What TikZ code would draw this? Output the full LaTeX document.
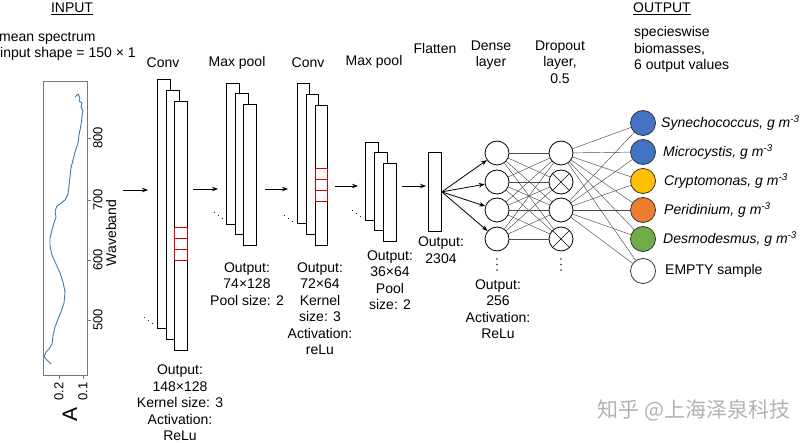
\documentclass[tikz,border=0pt]{standalone}
\usepackage{fontspec}
\setmainfont{Liberation Sans}
\newfontfamily\cjkfont{Noto Sans CJK SC}
\usetikzlibrary{arrows.meta}
\definecolor{spblue}{HTML}{3B7CA3}
\definecolor{oblue}{HTML}{4472C4}
\definecolor{oyellow}{HTML}{FFC000}
\definecolor{oorange}{HTML}{ED7D31}
\definecolor{ogreen}{HTML}{70AD47}
\definecolor{axisgray}{HTML}{777777}
\begin{document}
\begin{tikzpicture}[x=1pt,y=-1pt,
  every node/.style={font=\fontsize{14}{16.5}\selectfont, inner sep=0pt},
  lbl/.style={align=center},
  fmap/.style={draw=black, line width=0.8pt, fill=white, minimum width=13pt, anchor=north west},
  cellbox/.style={draw=red!85!black, line width=0.8pt},
  neuron/.style={circle, draw=black, line width=0.8pt, fill=white, minimum size=24pt},
  outn/.style={circle, draw=black!80, line width=0.8pt, minimum size=25pt},
  flow/.style={-{Stealth[length=6pt,width=4.5pt]}, line width=0.8pt},
  wire/.style={draw=black!70, line width=0.45pt},
  species/.style={font=\itshape\fontsize{14}{16}\selectfont, anchor=west},
  ticklbl/.style={font=\fontsize{13}{13}\selectfont, rotate=90},
  dotsnode/.style={font=\fontsize{10}{10}\selectfont}
]
\useasboundingbox (0,0) rectangle (800,443);

% ---------- titles ----------
\node (tin) at (72,9) {\underline{INPUT}};
\node[anchor=west] (tmean) at (-1,38) {mean spectrum};
\node[anchor=west] (tshape) at (0,54) {input shape = 150 × 1};
\node (tout) at (662,9) {\underline{OUTPUT}};
\node[anchor=west, align=left] (tspec) at (634,49.5) {specieswise\\biomasses,\\6 output values};

% ---------- spectrum ----------
\node[draw=axisgray, line width=0.7pt, minimum width=44pt, minimum height=294pt, anchor=north west] (spec) at (43,81) {};
\foreach \yy/\lab in {138/800,200/700,260/600,320/500}{
  \draw[axisgray, line width=0.6pt] (87,\yy) -- (91,\yy);
  \node[ticklbl, anchor=north] at (93,\yy) {\lab};
}
\node[rotate=90] (wave) at (111,233) {Waveband};
\foreach \xx/\lab in {59/0.2,83/0.1}{
  \draw[axisgray, line width=0.6pt] (\xx,375) -- (\xx,379);
  \node[ticklbl, anchor=east] at (\xx,382) {\lab};
}
\node[rotate=90, font=\fontsize{21}{21}\selectfont] (axA) at (70,414) {A};
\draw[spblue, line width=0.9pt, line join=round] plot coordinates {
 (75,97) (78,94) (80,98) (79,101) (82,103) (81,107) (83,111) (82,117) (81,125)
 (79,135) (78,143) (75,152) (73,160) (71,168) (70,177) (69,186) (68,194) (65,200)
 (60,204) (57,206) (55,211) (56,217) (54,223) (52,230) (50,238) (50,246) (52,255)
 (56,264) (60,273) (63,282) (65,292) (64,303) (61,312) (58,319) (55,327) (53,336)
 (52,344) (49,349) (46,352) (44,357) (47,360) (51,364)};

% ---------- conv 1 ----------
\node[lbl] (lc1) at (163,63) {Conv};
\node[fmap, minimum height=249pt] (c1a) at (157,79) {};
\node[fmap, minimum height=249pt] (c1b) at (165.5,90) {};
\node[fmap, minimum height=249pt] (c1c) at (174,101) {};
\foreach \yy in {227,238,249}{\draw[cellbox] (174,\yy) rectangle (187,\yy+11);}
\node[dotsnode] (dc1) at (148.5,318) {$\ddots$};
\node[lbl] (oc1) at (180,403) {Output:\\148×128\\Kernel size: 3\\Activation:\\ReLu};

% ---------- max pool 1 ----------
\node[lbl] (lm1) at (237,63) {Max pool};
\node[fmap, minimum height=141pt] (m1a) at (226,83) {};
\node[fmap, minimum height=141pt] (m1b) at (234.5,93.5) {};
\node[fmap, minimum height=141pt] (m1c) at (243,104) {};
\node[dotsnode] (dm1) at (218.5,213) {$\ddots$};
\node[lbl] (om1) at (247,284) {Output:\\74×128\\Pool size: 2};

% ---------- conv 2 ----------
\node[lbl] (lc2) at (308,63) {Conv};
\node[fmap, minimum width=12pt, minimum height=140pt] (c2a) at (297,83) {};
\node[fmap, minimum width=12pt, minimum height=140pt] (c2b) at (306,94) {};
\node[fmap, minimum width=12pt, minimum height=140pt] (c2c) at (315,105) {};
\foreach \yy in {168,179,190}{\draw[cellbox] (315,\yy) rectangle (327,\yy+11);}
\node[dotsnode] (dc2) at (288.5,216) {$\ddots$};
\node[lbl] (oc2) at (320,308.5) {Output:\\72×64\\Kernel\\size: 3\\Activation:\\reLu};

% ---------- max pool 2 ----------
\node[lbl] (lm2) at (374,62) {Max pool};
\node[fmap, minimum height=78pt] (m2a) at (365,142) {};
\node[fmap, minimum height=78pt] (m2b) at (374,152.5) {};
\node[fmap, minimum height=78pt] (m2c) at (383,163) {};
\node[dotsnode] (dm2) at (356.5,211) {$\ddots$};
\node[lbl] (om2) at (390,280) {Output:\\36×64\\Pool\\size: 2};

% ---------- flatten ----------
\node[lbl] (lfl) at (435,48) {Flatten};
\node[fmap, minimum height=79pt] (fl) at (428,152) {};
\node[lbl] (ofl) at (441,250) {Output:\\2304};

% ---------- layer arrows ----------
\coordinate (a0s) at (123,190); \coordinate (a0e) at (148,190);
\coordinate (a1s) at (193,189); \coordinate (a1e) at (218,189);
\coordinate (a2s) at (265,189); \coordinate (a2e) at (288,189);
\coordinate (a3s) at (335,186); \coordinate (a3e) at (358,186);
\coordinate (a4s) at (402,186); \coordinate (a4e) at (426,186);
\foreach \i in {0,...,4}{\draw[flow] (a\i s) -- (a\i e);}

% ---------- dense ----------
\node[lbl] (lde) at (491,55) {Dense\\layer};
\node[neuron] (d1) at (497,153) {};
\node[neuron] (d2) at (497,182) {};
\node[neuron] (d3) at (497,210) {};
\node[neuron] (d4) at (497,239) {};
\node[lbl] (ode) at (498,309) {Output:\\256\\Activation:\\ReLu};

% ---------- dropout ----------
\node[lbl] (ldr) at (560,62) {Dropout\\layer,\\0.5};
\node[neuron] (p1) at (561,153) {};
\node[neuron] (p2) at (561,182) {};
\node[neuron] (p3) at (561,210) {};
\node[neuron] (p4) at (561,239) {};
\foreach \p in {p2,p4}{
  \draw[line width=0.6pt] (\p.north west) -- (\p.south east) (\p.north east) -- (\p.south west);
}
% vertical ellipses below dense and dropout columns
\foreach \xx in {497,561}{
  \foreach \yy in {259,264.5,270}{\fill[black!85] (\xx,\yy) circle (0.8pt);}
}

% ---------- output ----------
\node[outn, fill=oblue] (o1) at (643,123) {};
\node[outn, fill=oblue] (o2) at (643,152) {};
\node[outn, fill=oyellow] (o3) at (643,181) {};
\node[outn, fill=oorange] (o4) at (643,210) {};
\node[outn, fill=ogreen] (o5) at (643,239) {};
\node[outn, fill=white] (o6) at (643,271) {};
\node[species] (s1) at (661,123) {Synechococcus, g m\textsuperscript{-3}};
\node[species] (s2) at (663,152) {Microcystis, g m\textsuperscript{-3}};
\node[species] (s3) at (664,181) {Cryptomonas, g m\textsuperscript{-3}};
\node[species] (s4) at (664,210) {Peridinium, g m\textsuperscript{-3}};
\node[species] (s5) at (663,239) {Desmodesmus, g m\textsuperscript{-3}};
\node[anchor=west] (s6) at (665,271) {EMPTY sample};

% ---------- connections ----------
\foreach \d in {d1,d2,d3,d4}{\draw[flow] (fl.east) -- (\d);}
\foreach \d in {d1,d2,d3,d4}{
  \foreach \p in {p1,p2,p3,p4}{\draw[wire] (\d) -- (\p);}
}
\foreach \p in {p1,p3}{
  \foreach \o in {o1,o2,o3,o4,o5,o6}{\draw[wire] (\p) -- (\o);}
}

% ---------- watermark ----------
\node[font=\cjkfont\fontsize{21}{21}\selectfont, text=black!30] (wm) at (694,410) {知乎 @上海泽泉科技};
\end{tikzpicture}
\end{document}
